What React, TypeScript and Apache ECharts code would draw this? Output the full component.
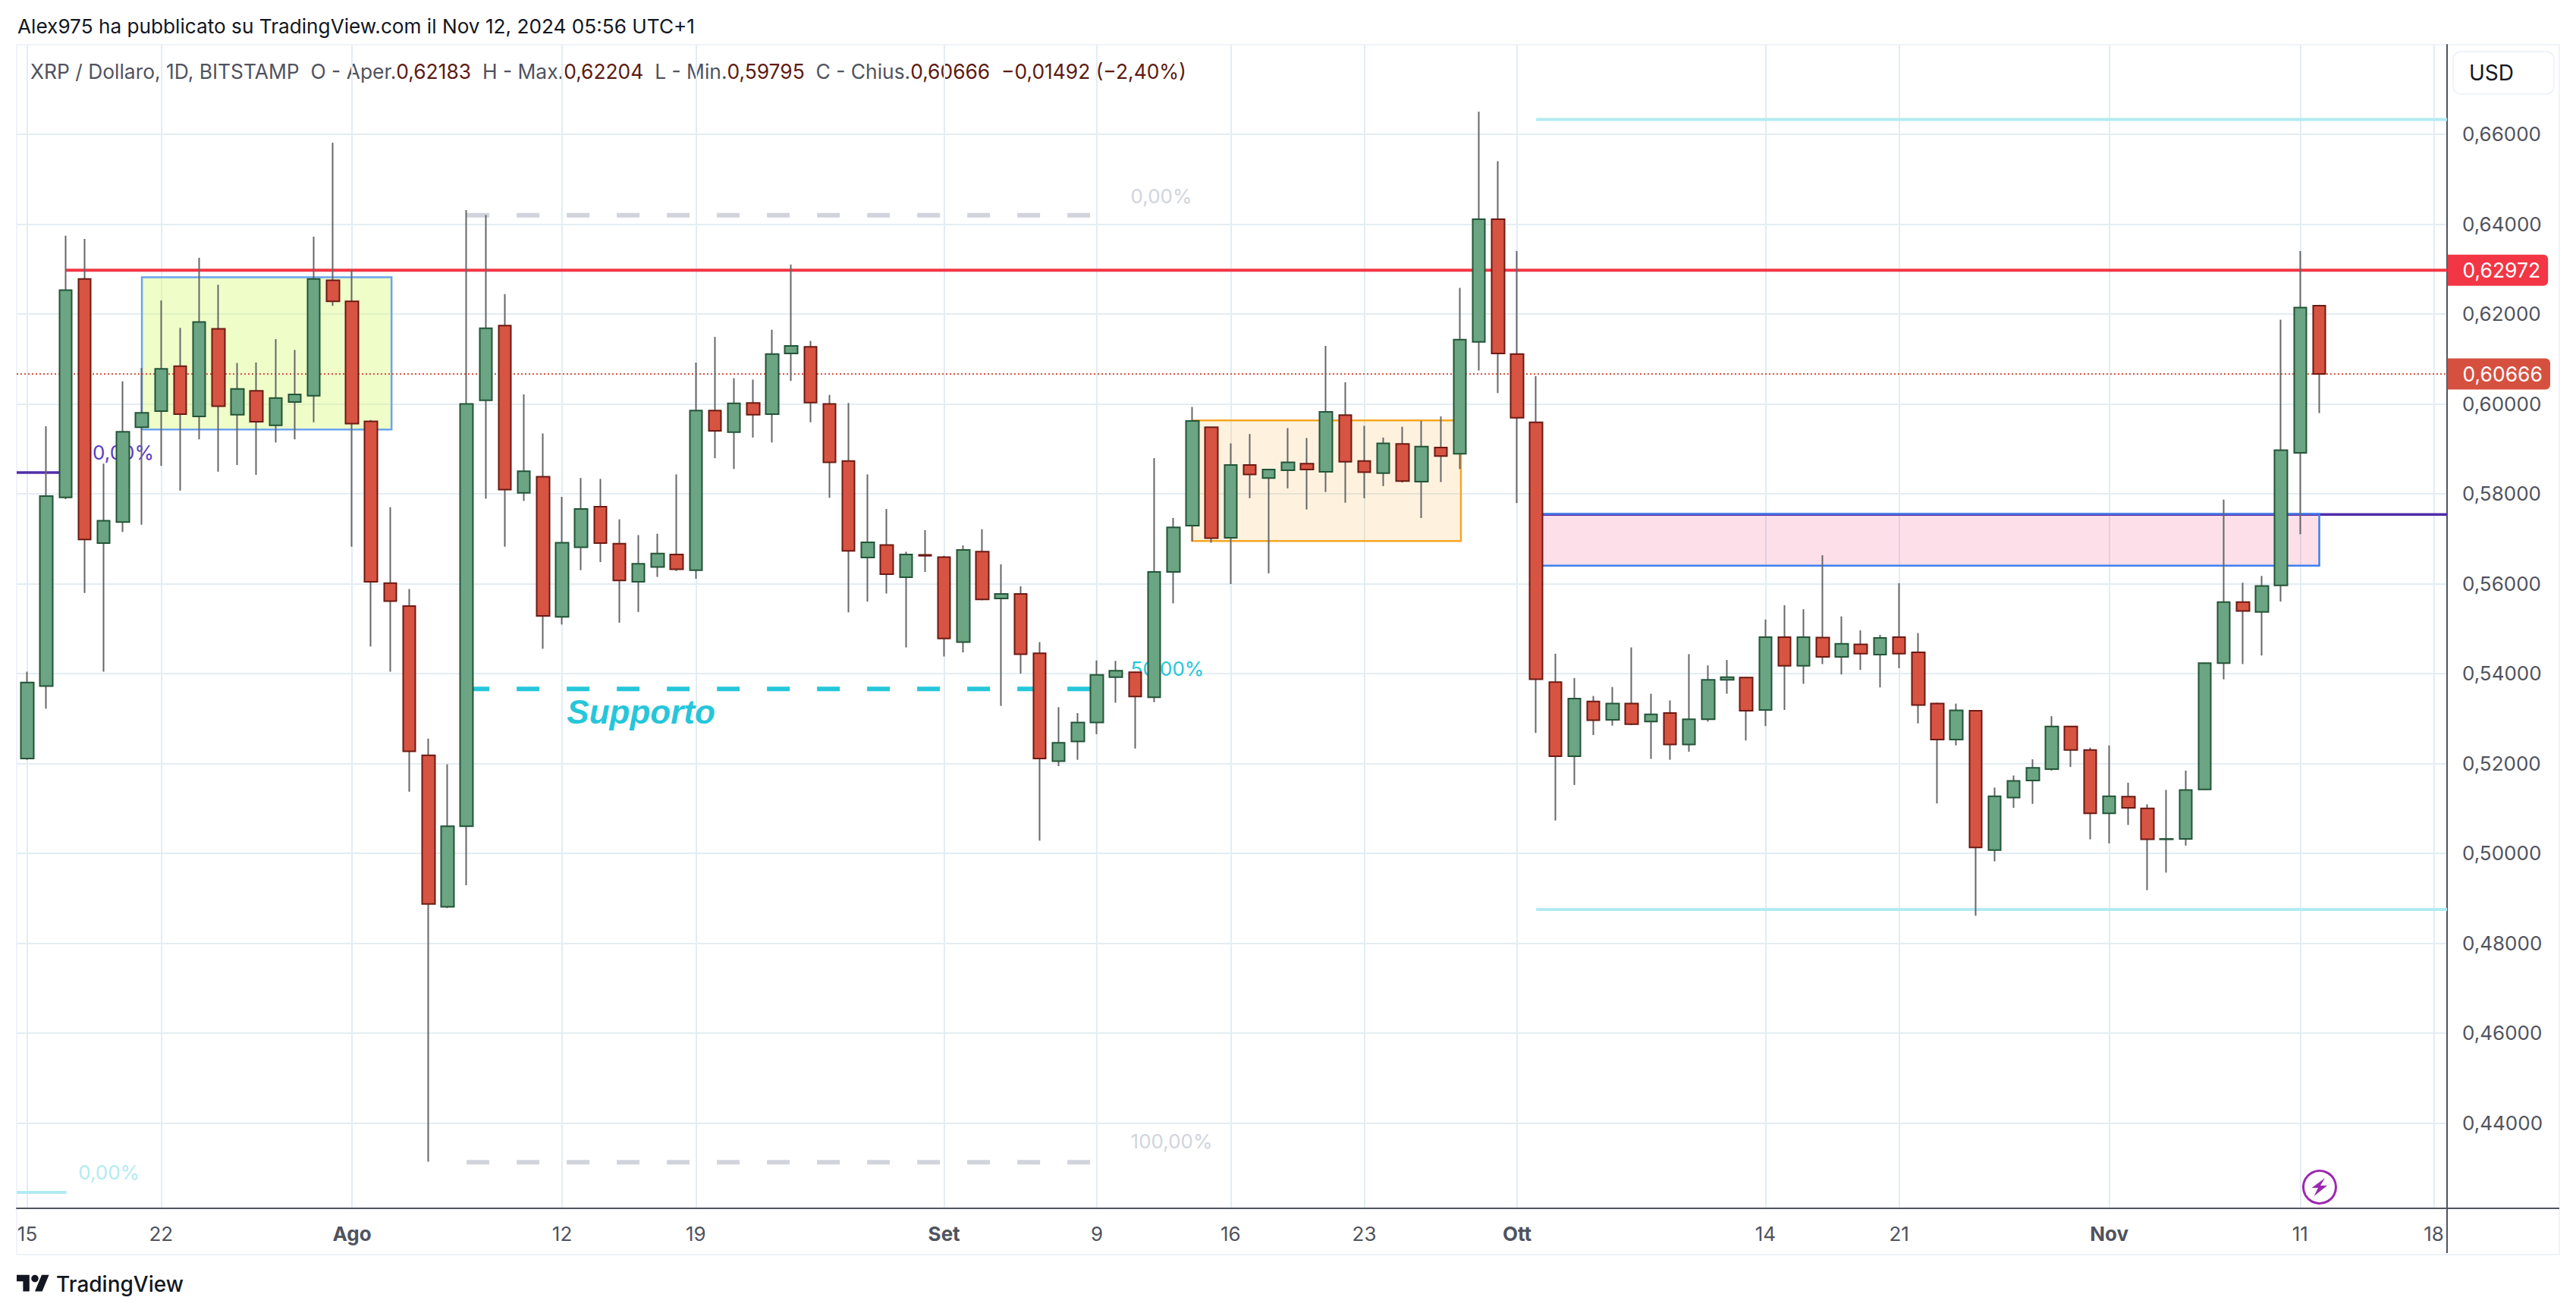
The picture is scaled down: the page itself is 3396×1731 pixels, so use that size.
import React, { useEffect, useRef } from "react";
import * as echarts from "echarts";

// ---------- data ----------
const dayLabels: [number, string][] = [
  [0, "15"], [7, "22"], [17, "Ago"], [28, "12"], [35, "19"], [48, "Set"], [56, "9"], [63, "16"],
  [70, "23"], [78, "Ott"], [91, "14"], [98, "21"], [109, "Nov"], [119, "11"], [126, "18"],
];
const monthLabels = ["Ago", "Set", "Ott", "Nov"];
const priceTicks = [0.44, 0.46, 0.48, 0.5, 0.52, 0.54, 0.56, 0.58, 0.6, 0.62, 0.64, 0.66];

const opens = [
  0.5211, 0.5372, 0.5792, 0.6278, 0.569, 0.5737, 0.5948, 0.5984, 0.6084, 0.5972, 0.6167,
  0.5976, 0.6029, 0.5952, 0.6004, 0.6018, 0.6275, 0.6228, 0.5961, 0.5601, 0.555, 0.5218,
  0.4881, 0.506, 0.6008, 0.6174, 0.5802, 0.5838, 0.5526, 0.5681, 0.5771, 0.5689, 0.5604,
  0.5637, 0.5665, 0.563, 0.5985, 0.5937, 0.6002, 0.5977, 0.6112, 0.6127, 0.6, 0.5873,
  0.5658, 0.5686, 0.5614, 0.5664, 0.5659, 0.547, 0.5671, 0.5567, 0.5577, 0.5445, 0.5205,
  0.5249, 0.5291, 0.5392, 0.5403, 0.5347, 0.5626, 0.5729, 0.5948, 0.5702, 0.5864, 0.5835,
  0.5852, 0.5867, 0.5849, 0.5975, 0.5873, 0.5846, 0.5911, 0.5827, 0.5903, 0.5889, 0.6138,
  0.6411, 0.6111, 0.5959, 0.5381, 0.5216, 0.5338, 0.5297, 0.5333, 0.5293, 0.5312, 0.5242,
  0.5298, 0.5386, 0.5391, 0.5319, 0.5481, 0.5417, 0.548, 0.5437, 0.5465, 0.5442, 0.5481,
  0.5447, 0.5333, 0.5253, 0.5317, 0.5007, 0.5124, 0.5162, 0.5187, 0.5282, 0.523, 0.5089,
  0.5126, 0.51, 0.5031, 0.5032, 0.5142, 0.5423, 0.5559, 0.5537, 0.5596, 0.5891, 0.62183,
];
const closes = [
  0.538, 0.5795, 0.6253, 0.5698, 0.574, 0.5938, 0.598, 0.6078, 0.5977, 0.6182, 0.5995,
  0.6033, 0.596, 0.6013, 0.6021, 0.6278, 0.6228, 0.5956, 0.5604, 0.5561, 0.5227, 0.4887,
  0.506, 0.6, 0.6168, 0.5809, 0.585, 0.5528, 0.5691, 0.5766, 0.569, 0.5607, 0.5644,
  0.5667, 0.5632, 0.5985, 0.594, 0.6001, 0.5976, 0.6111, 0.6129, 0.6003, 0.587, 0.5673,
  0.5692, 0.5621, 0.5665, 0.5662, 0.5478, 0.5675, 0.5565, 0.5577, 0.5443, 0.5211, 0.5246,
  0.5291, 0.5397, 0.5406, 0.5349, 0.5626, 0.5725, 0.5962, 0.5701, 0.5864, 0.5843, 0.5854,
  0.587, 0.5854, 0.5982, 0.5871, 0.5848, 0.5912, 0.5828, 0.5905, 0.5884, 0.6143, 0.6411,
  0.6112, 0.5969, 0.5387, 0.5216, 0.5344, 0.5296, 0.5333, 0.5287, 0.5309, 0.5242, 0.5298,
  0.5386, 0.5392, 0.5317, 0.5481, 0.5417, 0.5481, 0.5437, 0.5466, 0.5444, 0.5479, 0.5444,
  0.533, 0.5253, 0.5318, 0.5013, 0.5127, 0.5161, 0.519, 0.5282, 0.523, 0.5089, 0.5127,
  0.5101, 0.5031, 0.5032, 0.5141, 0.5423, 0.5559, 0.5539, 0.5595, 0.5897, 0.6214, 0.60666,
];
const lows = [
  0.5208, 0.5322, 0.5788, 0.5579, 0.5404, 0.5715, 0.5731, 0.5862, 0.5807, 0.5921, 0.5849,
  0.5864, 0.5842, 0.5914, 0.5921, 0.5959, 0.6218, 0.5682, 0.546, 0.5404, 0.5137, 0.4314,
  0.4878, 0.4929, 0.5789, 0.5682, 0.5784, 0.5455, 0.5509, 0.563, 0.5648, 0.5513, 0.5537,
  0.5615, 0.5628, 0.5611, 0.5879, 0.5855, 0.5925, 0.5914, 0.6051, 0.5959, 0.5791, 0.5536,
  0.556, 0.5578, 0.5458, 0.5626, 0.5438, 0.5447, 0.5563, 0.5328, 0.54, 0.5028, 0.5194,
  0.5208, 0.5265, 0.5335, 0.5233, 0.5336, 0.5556, 0.5694, 0.5691, 0.5599, 0.579, 0.5623,
  0.5812, 0.5765, 0.5804, 0.578, 0.579, 0.5817, 0.5825, 0.5746, 0.5826, 0.5855, 0.6074,
  0.6024, 0.5779, 0.5268, 0.5073, 0.5152, 0.5263, 0.5284, 0.5285, 0.521, 0.5208, 0.5226,
  0.5293, 0.5355, 0.5251, 0.5283, 0.5319, 0.5377, 0.5421, 0.5398, 0.5408, 0.5369, 0.5412,
  0.5289, 0.5111, 0.524, 0.4861, 0.4982, 0.5101, 0.511, 0.5184, 0.5192, 0.5031, 0.5022,
  0.5063, 0.4918, 0.4957, 0.5017, 0.5141, 0.5387, 0.5421, 0.544, 0.556, 0.571, 0.59795,
];
const highs = [
  0.5404, 0.595, 0.6374, 0.6367, 0.5867, 0.605, 0.608, 0.623, 0.6169, 0.6325, 0.6265,
  0.6091, 0.6092, 0.6144, 0.612, 0.6372, 0.6581, 0.6299, 0.5964, 0.577, 0.5588, 0.5255,
  0.5198, 0.6431, 0.642, 0.6244, 0.6021, 0.5934, 0.5793, 0.5835, 0.5833, 0.5743, 0.5708,
  0.5711, 0.5843, 0.6092, 0.6149, 0.6057, 0.6054, 0.6165, 0.631, 0.614, 0.602, 0.6002,
  0.5843, 0.5766, 0.5671, 0.5719, 0.5662, 0.5685, 0.5721, 0.5643, 0.5594, 0.547, 0.5325,
  0.5312, 0.5429, 0.5428, 0.5404, 0.5879, 0.5746, 0.5993, 0.5948, 0.5912, 0.5933, 0.5855,
  0.5946, 0.5924, 0.6129, 0.6048, 0.5951, 0.5925, 0.5949, 0.5962, 0.5972, 0.6258, 0.665,
  0.654, 0.634, 0.6062, 0.5444, 0.539, 0.535, 0.537, 0.5458, 0.5355, 0.534, 0.5443,
  0.5418, 0.543, 0.5392, 0.552, 0.5552, 0.5543, 0.5663, 0.5527, 0.5496, 0.5486, 0.5601,
  0.549, 0.5335, 0.5333, 0.5318, 0.5146, 0.5173, 0.5209, 0.5305, 0.5283, 0.5235, 0.524,
  0.5157, 0.5109, 0.5141, 0.5184, 0.5424, 0.5787, 0.5602, 0.5617, 0.6187, 0.634, 0.62204,
];

const lastPrice = 0.60666;
const resistance = 0.62972;
const fibGrey0 = 0.64196;
const fibCyan50 = 0.53655;
const fibGrey100 = 0.43124;
const fibTealTop = 0.66327;
const fibTealBottom = 0.48751;
const fibTealStub = 0.42454;
const purpleLeft = 0.5847;
const purpleRight = 0.5754;

const yellowBox = { x: [6, 19.07], y: [0.62815, 0.59428] };
const orangeBox = { x: [61, 75.06], y: [0.5963, 0.5695] };
const pinkBox = { x: [79, 120], y: [0.5755, 0.564] };

// ---------- layout ----------
const W = 3396;
const H = 1731;
const plotLeft = 22;
const plotRight = 3226;
const plotTop = 59;
const plotBottom = 1593;
const frameRight = 3374;
const frameBottom = 1654;
const xMin = -0.556;
const xMax = 126.69;
const yMin = 0.421;
const yMax = 0.6799;

const FONT = "Inter, Roboto, sans-serif";
const GRID = "#e3edf3";
const AXIS = "#50535e";

const tvD = "M14 22H7V11H0V4h14v18zM28 22h-8l7.5-18h8L28 22zM24 8a4 4 0 1 1-8 0 4 4 0 0 1 8 0z";
echarts.graphic.registerShape("tvlogo", echarts.graphic.extendPath(tvD, {}) as any);

const hLine = (name: string, x0: number, x1: number, y: number, color: string, width: number, z: number, type: any = "solid") => ({
  name,
  type: "line",
  data: [[x0, y], [x1, y]],
  showSymbol: false,
  silent: true,
  z,
  lineStyle: { color, width, type, cap: "butt" },
  itemStyle: { color },
});

const box = (name: string, b: { x: number[]; y: number[] }, fill: string, stroke: string, sw: number, z: number) => ({
  name,
  type: "line",
  data: [],
  silent: true,
  z,
  markArea: {
    silent: true,
    z,
    itemStyle: { color: fill, borderColor: stroke, borderWidth: sw },
    label: { show: false },
    data: [[{ coord: [b.x[0], b.y[0]] }, { coord: [b.x[1], b.y[1]] }]],
  },
});

const textMark = (name: string, x: number, y: number, text: string, color: string, size = 26, extra: any = {}) => ({
  name,
  type: "scatter",
  data: [[x, y]],
  symbolSize: 1,
  silent: true,
  z: 3,
  itemStyle: { color: "transparent", opacity: 1 },
  label: {
    show: true,
    position: "right",
    distance: 0,
    formatter: text,
    color,
    opacity: 1,
    fontSize: size,
    fontFamily: FONT,
    ...extra,
  },
});

const priceTag = (name: string, y: number, color: string) => ({
  name,
  type: "scatter",
  data: [[xMax, y]],
  symbolSize: 1,
  silent: true,
  clip: false,
  z: 20,
  itemStyle: { color: "transparent", opacity: 1 },
  label: {
    show: true,
    position: "right",
    distance: 0,
    opacity: 1,
    formatter: y.toFixed(5).replace(".", ","),
    color: "#ffffff",
    fontSize: 26.5,
    fontFamily: FONT,
    backgroundColor: color,
    padding: [7, 10, 7, 20],
    borderRadius: [0, 6, 6, 0],
  },
});

function buildOption() {
  const candleIdx = opens.map((_, i) => i);
  const wickData = candleIdx.map((i) => [i, opens[i], closes[i], lows[i], highs[i]]);
  const bodyData = candleIdx.map((i) => [
    i, opens[i], closes[i], Math.min(opens[i], closes[i]), Math.max(opens[i], closes[i]),
  ]);
  const tickCustom = dayLabels.map((d) => d[0]);
  const dayMap = new Map(dayLabels.map((d) => [d[0], d[1]]));

  return {
    animation: false,
    backgroundColor: "#ffffff",
    textStyle: { fontFamily: FONT },
    grid: {
      left: plotLeft,
      right: W - plotRight,
      top: plotTop,
      bottom: H - plotBottom,
      containLabel: false,
    },
    xAxis: {
      type: "value",
      min: xMin,
      max: xMax,
      axisLine: { show: true, onZero: false, lineStyle: { color: AXIS, width: 2 } },
      axisTick: { show: false, customValues: tickCustom },
      splitLine: { show: true, lineStyle: { color: GRID, width: 2 } },
      axisLabel: {
        customValues: tickCustom,
        margin: 20,
        color: AXIS,
        fontSize: 26,
        fontFamily: FONT,
        hideOverlap: false,
        showMinLabel: true,
        showMaxLabel: true,
        formatter: (v: number) => {
          const s = dayMap.get(Math.round(v)) ?? "";
          return monthLabels.includes(s) ? `{b|${s}}` : s;
        },
        rich: { b: { fontWeight: 700, color: AXIS, fontSize: 26, fontFamily: FONT } },
      },
    },
    yAxis: {
      type: "value",
      position: "right",
      scale: true,
      min: yMin,
      max: yMax,
      axisLine: { show: true, onZero: false, lineStyle: { color: AXIS, width: 2 } },
      axisTick: { show: false, customValues: priceTicks },
      splitLine: { show: true, lineStyle: { color: GRID, width: 2 } },
      axisLabel: {
        customValues: priceTicks,
        margin: 20,
        color: AXIS,
        fontSize: 26,
        fontFamily: FONT,
        align: "left",
        padding: [0, 0, 2, 0],
        formatter: (v: number) => v.toFixed(5).replace(".", ","),
      },
    },
    series: [
      box("Zona gialla", yellowBox, "rgba(214,250,120,0.4)", "#6ba4ef", 2.5, 2),
      box("Zona arancio", orangeBox, "rgba(245,166,35,0.15)", "#f5a623", 2.5, 2),
      box("Zona rosa", pinkBox, "rgba(233,30,99,0.14)", "#3f7ff0", 2.5, 3),

      hLine("Resistenza", 2, xMax, resistance, "#f23645", 4, 4),
      hLine("Ultimo prezzo", xMin, xMax, lastPrice, "#d75442", 2, 2, [2, 3]),
      hLine("Fib grigio 0", 23, 55.7, fibGrey0, "#d1d4dc", 6, 2, [30, 36]),
      hLine("Supporto", 23, 55.7, fibCyan50, "#26c6da", 6, 2, [30, 36]),
      hLine("Fib grigio 100", 23, 55.7, fibGrey100, "#d1d4dc", 6, 2, [30, 36]),
      hLine("Fib turchese alto", 79, xMax, fibTealTop, "#b2ebf2", 4, 2),
      hLine("Fib turchese basso", 79, xMax, fibTealBottom, "#b2ebf2", 4, 2),
      hLine("Fib turchese stub", xMin, 2.05, fibTealStub, "#b2ebf2", 4, 2),
      hLine("Viola sinistra", xMin, 2, purpleLeft, "#512da8", 3.5, 2),
      hLine("Viola destra", 79, xMax, purpleRight, "#512da8", 3.5, 2),

      textMark("t1", 3.4, 0.5891, "0,00%", "#5b3cc4"),
      textMark("t2", 2.65, 0.42898, "0,00%", "#b2ebf2"),
      textMark("t3", 57.75, 0.6462, "0,00%", "#d1d4dc"),
      textMark("t4", 57.75, 0.5411, "50,00%", "#26c6da"),
      textMark("t5", 57.75, 0.4359, "100,00%", "#d1d4dc"),
      textMark("Supporto-lbl", 28.23, 0.53145, "Supporto", "#26c6da", 44, {
        fontFamily: "Liberation Sans",
        fontWeight: 700,
        fontStyle: "italic",
      }),

      {
        name: "Stoppini",
        type: "candlestick",
        data: wickData,
        encode: { x: 0, y: [1, 2, 3, 4] },
        barWidth: 0.01,
        silent: true,
        z: 9,
        itemStyle: {
          color: "#666668", color0: "#666668",
          borderColor: "#666668", borderColor0: "#666668", borderColorDoji: "#666668",
          borderWidth: 2,
        },
      },
      {
        name: "XRP / Dollaro",
        type: "candlestick",
        data: bodyData,
        encode: { x: 0, y: [1, 2, 3, 4] },
        barWidth: 17,
        silent: true,
        z: 10,
        itemStyle: {
          color: "#6ba583", color0: "#d75442",
          borderColor: "#225437", borderColor0: "#6b1a13", borderColorDoji: "#4a2a26",
          borderWidth: 2,
        },
      },

      priceTag("Tag resistenza", resistance, "#f23645"),
      priceTag("Tag ultimo", lastPrice, "#d6503f"),
    ],
    graphic: [
      {
        type: "rect", silent: true, z: 0,
        shape: { x: plotLeft, y: plotTop, width: frameRight - plotLeft, height: frameBottom - plotTop },
        style: { fill: "none", stroke: "#f0f3fa", lineWidth: 2 },
      },
      {
        type: "line", silent: true, z: 5,
        shape: { x1: plotRight, y1: plotBottom, x2: frameRight, y2: plotBottom },
        style: { stroke: AXIS, lineWidth: 2 },
      },
      {
        type: "line", silent: true, z: 5,
        shape: { x1: plotRight, y1: plotBottom, x2: plotRight, y2: frameBottom - 2 },
        style: { stroke: AXIS, lineWidth: 2 },
      },
      {
        type: "text", silent: true, x: 23, y: 34,
        style: {
          text: "Alex975 ha pubblicato su TradingView.com il Nov 12, 2024 05:56 UTC+1",
          fill: "#131722", font: `26.2px ${FONT}`, verticalAlign: "middle",
        },
      },
      {
        type: "text", silent: true, x: 40, y: 94,
        style: {
          text:
            "{a|XRP / Dollaro, 1D, BITSTAMP  O - Aper.}{v|0,62183}{a|  H - Max.}{v|0,62204}{a|  L - Min.}{v|0,59795}{a|  C - Chius.}{v|0,60666}{v|  −0,01492 (−2,40%)}",
          verticalAlign: "middle",
          rich: {
            a: { fill: "#50535e", font: `26.4px ${FONT}` },
            v: { fill: "#5e1b12", font: `26.4px ${FONT}` },
          },
        },
      },
      {
        type: "rect", silent: true,
        shape: { x: 3234, y: 68, width: 133, height: 56, r: 10 },
        style: { fill: "#ffffff", stroke: "#f0f3fa", lineWidth: 2 },
      },
      {
        type: "text", silent: true, x: 3255, y: 96,
        style: { text: "USD", fill: "#131722", font: `28px ${FONT}`, verticalAlign: "middle" },
      },
      {
        type: "circle", silent: true,
        shape: { cx: 3058, cy: 1565, r: 21.5 },
        style: { fill: "#ffffff", stroke: "#9c27b0", lineWidth: 3 },
      },
      {
        type: "polygon", silent: true,
        shape: {
          points: [[3065, 1553], [3047.5, 1566], [3056, 1566], [3050.5, 1577], [3068, 1563], [3059, 1563]],
        },
        style: { fill: "#9c27b0" },
      },
      {
        type: "tvlogo", silent: true, x: 22, y: 1676, scaleX: 1.2, scaleY: 1.2,
        style: { fill: "#131722" },
      },
      {
        type: "text", silent: true, x: 74, y: 1693,
        style: { text: "TradingView", fill: "#131722", font: `500 28px ${FONT}`, verticalAlign: "middle" },
      },
    ],
  };
}

export default function App() {
  const ref = useRef<HTMLDivElement>(null);
  useEffect(() => {
    const chart = echarts.init(ref.current!, undefined, { renderer: "svg" });
    chart.setOption(buildOption() as any);
    return () => chart.dispose();
  }, []);
  return <div ref={ref} style={{ position: "fixed", left: 0, top: 0, width: W, height: H }} />;
}
